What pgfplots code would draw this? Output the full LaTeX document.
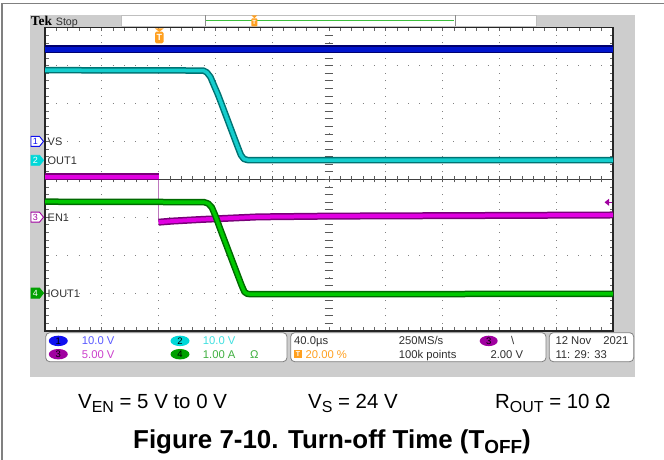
\documentclass[border=0pt]{standalone}
\usepackage{pgfplots}
\pgfplotsset{compat=1.18}
\usepackage{fontspec}
\setmainfont{Liberation Sans}
\newfontfamily\tekserif{Liberation Serif}
\definecolor{scopegray}{RGB}{205,205,205}
\definecolor{frameg}{RGB}{128,128,128}
\definecolor{c1edge}{RGB}{0,0,110}
\definecolor{c1core}{RGB}{0,20,205}
\definecolor{c2edge}{RGB}{0,115,115}
\definecolor{c2core}{RGB}{20,205,205}
\definecolor{c3edge}{RGB}{120,0,120}
\definecolor{c3core}{RGB}{225,0,225}
\definecolor{c3thin}{RGB}{190,120,190}
\definecolor{c4edge}{RGB}{0,105,0}
\definecolor{c4core}{RGB}{0,200,0}
\definecolor{t1}{RGB}{90,90,255}
\definecolor{t2}{RGB}{64,224,224}
\definecolor{t3}{RGB}{204,64,204}
\definecolor{t4}{RGB}{64,176,64}
\definecolor{b1}{RGB}{16,16,240}
\definecolor{b2}{RGB}{0,216,216}
\definecolor{b3}{RGB}{160,0,160}
\definecolor{b4}{RGB}{0,160,0}
\definecolor{trig}{RGB}{255,160,32}
\definecolor{tekgreen}{RGB}{60,190,60}
\definecolor{txt}{RGB}{48,48,48}
\begin{document}
\begin{tikzpicture}
\path[use as bounding box] (0,0) rectangle (664bp,460bp);
% ---------- background, frame, top bar ----------
\begin{scope}[x=1bp,y=-1bp,yshift=460bp]
  \draw[frameg, line width=1.5bp] (2,460) -- (2,3.3) -- (664,3.3);
  \fill[scopegray] (30,15) rectangle (634.7,377.3);
  \fill[white] (121.7,15) rectangle (536.7,26.7);
  \draw[black!25, line width=0.8bp] (121.7,15) rectangle (536.7,26.7);
  \draw[black!45, line width=1bp] (205,15.5) -- (205,26.2);
  \draw[black!45, line width=1bp] (455,15.5) -- (455,26.2);
  \draw[tekgreen, line width=1.2bp] (206,20.7) -- (454,20.7);
  \fill[trig] (251.3,15.3) -- (257.3,15.3) -- (254.3,18.3) -- cycle;
  \fill[trig, rounded corners=1bp] (251.3,18.3) rectangle (257.3,26.5);
  \node[white, inner sep=0, font=\fontsize{6}{6}\selectfont\bfseries] at (254.3,22.4) {T};
  \node[anchor=base west, inner sep=0, font=\tekserif\bfseries\fontsize{13.5}{13.5}\selectfont] at (30.7,25.3) {Tek};
  \node[anchor=base west, inner sep=0, txt, font=\fontsize{10.7}{10.7}\selectfont] at (55.7,25.3) {Stop};
\end{scope}
% ---------- graticule and traces ----------
\begin{axis}[
  at={(45bp,129bp)}, anchor=south west,
  width=568bp, height=303.3bp, scale only axis,
  xmin=-80, xmax=320, ymin=-4, ymax=4,
  xtick={-80,-40,...,320}, ytick={-4,-3,...,4},
  minor x tick num=4, minor y tick num=4,
  xticklabels={}, yticklabels={},
  tick align=inside, xtick pos=both, ytick pos=both,
  major tick length=3.5bp, minor tick length=3.5bp,
  every tick/.style={black!60, line width=0.7bp},
  grid=major,
  x grid style={black!50, line width=1bp, dash pattern=on 1bp off 6.58bp, dash phase=0.5bp},
  y grid style={black!50, line width=1bp, dash pattern=on 1bp off 10.36bp, dash phase=0.5bp},
  axis line style={black!85, line width=1.1bp},
  axis background/.style={fill=white},
  clip=true,
]
\draw[black!75, line width=1.1bp] (axis cs:-80,0) -- (axis cs:320,0);
\pgfplotsinvokeforeach{-72,-64,...,312}{\draw[black!65, line width=0.7bp] (axis cs:#1,-0.08) -- (axis cs:#1,0.08);}
\pgfplotsinvokeforeach{-3.8,-3.6,...,3.8}{\draw[black!65, line width=0.7bp] (axis cs:117,#1) -- (axis cs:123,#1);}
% CH1 VS
\addplot[c1edge, line width=8bp, no marks] coordinates {(-80,3.43) (320,3.43)};
\addplot[c1core, line width=4.5bp, no marks] coordinates {(-80,3.43) (320,3.43)};
% CH2 OUT1
\addplot[c2edge, line width=6.5bp, no marks, line join=round] coordinates {
(-80,2.88) (31.5,2.87) (34,2.82) (36.5,2.70) (39,2.48) (42,2.22) (56.1,0.82) (58,0.64) (60,0.54) (62.5,0.51) (320,0.51)};
\addplot[c2core, line width=3.5bp, no marks, line join=round] coordinates {
(-80,2.88) (31.5,2.87) (34,2.82) (36.5,2.70) (39,2.48) (42,2.22) (56.1,0.82) (58,0.64) (60,0.54) (62.5,0.51) (320,0.51)};
% CH3 EN1
\addplot[c3thin, line width=1bp, no marks] coordinates {(0,0.07) (0,-1.13)};
\addplot[c3edge, line width=7bp, no marks] coordinates {(-80,0.07) (0,0.07)};
\addplot[c3core, line width=4bp, no marks] coordinates {(-80,0.07) (0,0.07)};
\addplot[c3edge, line width=7bp, no marks, line join=round] coordinates {
(0,-1.13) (10,-1.10) (29,-1.06) (70,-0.99) (120,-0.97) (320,-0.94)};
\addplot[c3core, line width=4bp, no marks, line join=round] coordinates {
(0,-1.13) (10,-1.10) (29,-1.06) (70,-0.99) (120,-0.97) (320,-0.94)};
% CH4 IOUT1
\addplot[c4edge, line width=6.5bp, no marks, line join=round] coordinates {
(-80,-0.59) (32,-0.60) (35,-0.64) (37.5,-0.74) (40,-0.96) (43.2,-1.29) (52.6,-2.22) (58.5,-2.80) (60.5,-2.97) (62.5,-3.02) (65,-3.03) (320,-3.02)};
\addplot[c4core, line width=3.5bp, no marks, line join=round] coordinates {
(-80,-0.59) (32,-0.60) (35,-0.64) (37.5,-0.74) (40,-0.96) (43.2,-1.29) (52.6,-2.22) (58.5,-2.80) (60.5,-2.97) (62.5,-3.02) (65,-3.03) (320,-3.02)};
\end{axis}
% ---------- overlays ----------
\begin{scope}[x=1bp,y=-1bp,yshift=460bp]
  % trigger position marker
  \fill[trig] (154.8,28.3) -- (163.8,28.3) -- (159.3,31.9) -- cycle;
  \fill[trig, rounded corners=1.5bp] (155,31.7) rectangle (163.6,43.3);
  \node[white, inner sep=0, font=\bfseries\fontsize{9}{9}\selectfont] at (159.3,37.5) {T};
  % trigger level arrow
  \fill[b3] (604.5,202.3) -- (609,198.8) -- (609,205.8) -- cycle;
  \draw[b3, line width=1.2bp] (608,202.3) -- (612,202.3);
  % channel ground markers
  \filldraw[fill=white, draw=b1, line width=0.9bp] (31,136.4) -- (39.5,136.4) -- (43.5,141.4) -- (39.5,146.4) -- (31,146.4) -- cycle;
  \node[b1, inner sep=0, font=\fontsize{9}{9}\selectfont] at (35.3,141.4) {1};
  \filldraw[fill=b2, draw=b2, line width=0.9bp] (31,155.3) -- (39.5,155.3) -- (43.5,160.3) -- (39.5,165.3) -- (31,165.3) -- cycle;
  \node[white, inner sep=0, font=\fontsize{9}{9}\selectfont] at (35.3,160.3) {2};
  \filldraw[fill=white, draw=b3, line width=0.9bp] (31,212.2) -- (39.5,212.2) -- (43.5,217.2) -- (39.5,222.2) -- (31,222.2) -- cycle;
  \node[b3, inner sep=0, font=\fontsize{9}{9}\selectfont] at (35.3,217.2) {3};
  \filldraw[fill=b4, draw=b4, line width=0.9bp] (31,288.1) -- (39.5,288.1) -- (43.5,293.1) -- (39.5,298.1) -- (31,298.1) -- cycle;
  \node[white, inner sep=0, font=\fontsize{9}{9}\selectfont] at (35.3,293.1) {4};
  \begin{scope}[every node/.style={anchor=base west, inner sep=0, txt, font=\fontsize{11}{11}\selectfont}]
    \node at (47.5,145.4) {VS};
    \node at (47.5,164.3) {OUT1};
    \node at (47.5,221.2) {EN1};
    \node at (47.5,297.1) {IOUT1};
  \end{scope}
  % info bar
  \filldraw[fill=white, draw=frameg, line width=0.8bp, rounded corners=4bp] (45.7,332.7) rectangle (287,361.7);
  \filldraw[fill=white, draw=frameg, line width=0.8bp, rounded corners=4bp] (290.7,332.7) rectangle (546,361.7);
  \filldraw[fill=white, draw=frameg, line width=0.8bp, rounded corners=4bp] (549.3,332.7) rectangle (633.7,361.7);
  \fill[b1] (58.3,340.9) ellipse [x radius=9.5, y radius=5.2];
  \fill[b3] (58.3,354.2) ellipse [x radius=9.5, y radius=5.2];
  \fill[b2] (180,340.9) ellipse [x radius=9.5, y radius=5.2];
  \fill[b4] (180,354.2) ellipse [x radius=9.5, y radius=5.2];
  \fill[b3] (488.7,340.9) ellipse [x radius=9, y radius=5.2];
  \begin{scope}[every node/.style={inner sep=0, font=\fontsize{9.5}{9.5}\selectfont}]
    \node at (58.3,340.9) {1};
    \node at (58.3,354.2) {3};
    \node at (180,340.9) {2};
    \node at (180,354.2) {4};
    \node at (488.7,340.9) {3};
  \end{scope}
  \fill[trig] (294,350) rectangle (302,358.3);
  \node[white, inner sep=0, font=\bfseries\fontsize{7}{7}\selectfont] at (298,354.2) {T};
  \begin{scope}[every node/.style={anchor=base west, inner sep=0, font=\fontsize{11.3}{11.3}\selectfont}]
    \node[t1] at (81.7,345) {10.0 V};
    \node[t3] at (81.7,358.3) {5.00 V};
    \node[t2] at (202.7,345) {10.0 V};
    \node[t4] at (202.7,358.3) {1.00 A};
    \node[t4] at (250,358.3) {Ω};
    \node[txt] at (294,345) {40.0µs};
    \node[trig] at (305.5,358.3) {20.00 \%};
    \node[txt] at (398.7,345) {250MS/s};
    \node[txt] at (398.7,358.3) {100k points};
    \node[txt] at (511,345) {\textbackslash};
    \node[txt] at (490.3,358.3) {2.00 V};
    \node[txt] at (555.3,345) {12 Nov};
    \node[txt, anchor=base east] at (628.7,345) {2021};
    \node[txt] at (555.3,358.3) {11: 29: 33};
  \end{scope}
  % captions
  \begin{scope}[every node/.style={anchor=base west, inner sep=0, font=\fontsize{20.5}{20.5}\selectfont}]
    \node at (78,408.3) {V\raisebox{-4.4bp}{\fontsize{16}{16}\selectfont EN} = 5 V to 0 V};
    \node at (308,408.3) {V\raisebox{-4.4bp}{\fontsize{16}{16}\selectfont S} = 24 V};
    \node at (495,408.3) {R\raisebox{-4.4bp}{\fontsize{16}{16}\selectfont OUT} = 10 Ω};
  \end{scope}
  \node[anchor=base, inner sep=0, font=\bfseries\fontsize{26}{26}\selectfont] at (332,449) {Figure 7-10. Turn-off Time (T\raisebox{-5bp}{\fontsize{19}{19}\selectfont OFF})};
\end{scope}
\end{tikzpicture}
\end{document}
